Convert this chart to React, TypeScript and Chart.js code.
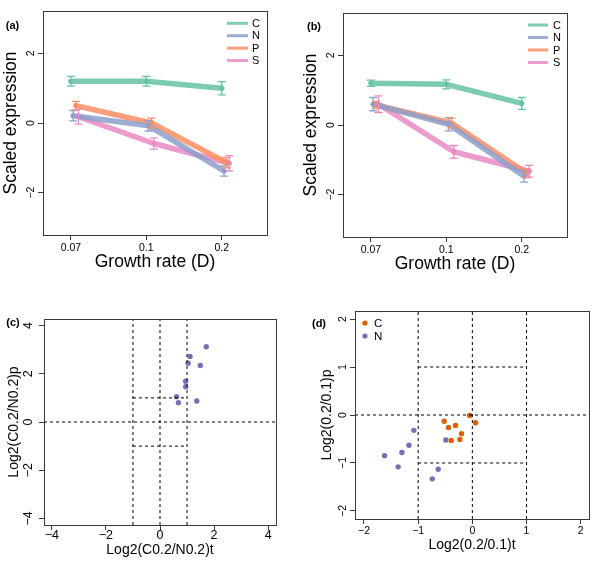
import React, { useEffect, useRef } from "react";
import { Chart, registerables } from "chart.js";

Chart.register(...registerables);

// ---------------- data ----------------
const growthRates = ["0.07", "0.1", "0.2"];
const seriesNames = ["C", "N", "P", "S"];

// panel (a)
const aC = [1.2, 1.2, 1.0];
const aCErr = [0.14, 0.14, 0.19];
const aN = [0.21, -0.08, -1.38];
const aNErr = [0.15, 0.15, 0.15];
const aP = [0.5, 0.0, -1.14];
const aPErr = [0.12, 0.14, 0.15];
const aS = [0.18, -0.59, -1.16];
const aSErr = [0.21, 0.16, 0.22];

// panel (b)
const bC = [1.2, 1.17, 0.62];
const bCErr = [0.09, 0.13, 0.17];
const bN = [0.6, 0.02, -1.47];
const bNErr = [0.19, 0.19, 0.17];
const bP = [0.58, 0.06, -1.39];
const bPErr = [0.1, 0.14, 0.12];
const bS = [0.6, -0.77, -1.33];
const bSErr = [0.24, 0.18, 0.17];

// panel (c)
const cX = [1.71, 1.11, 1.04, 1.49, 0.95, 0.95, 0.61, 0.68, 1.36];
const cY = [3.12, 2.72, 2.44, 2.34, 1.69, 1.46, 1.05, 0.8, 0.87];

// panel (d)
const dCX = [-0.05, 0.06, -0.52, -0.44, -0.31, -0.2, -0.39, -0.23];
const dCY = [-0.01, -0.16, -0.13, -0.26, -0.22, -0.39, -0.53, -0.51];
const dNX = [-0.49, -1.08, -1.17, -1.3, -1.62, -1.37, -0.63, -0.74];
const dNY = [-0.52, -0.32, -0.63, -0.78, -0.85, -1.08, -1.13, -1.33];

// ticks
const growthTicks = [1, 2, 3];
const expressionTicks = [-2, 0, 2];
const cTicks = [-4, -2, 0, 2, 4];
const dTicks = [-2, -1, 0, 1, 2];
const refLines = [-1, 0, 1];

// ---------------- styles ----------------
const FONT = "'Liberation Sans', Arial, Helvetica, sans-serif";
const AXIS_COLOR = "#3a3a3a";
const seriesColors = ["#66C2A5", "#8DA0CB", "#FC8D62", "#E78AC3"];
const lineColors = [
  "rgba(102,194,165,0.85)",
  "rgba(141,160,203,0.85)",
  "rgba(252,141,98,0.85)",
  "rgba(231,138,195,0.85)",
];
const dodge = [0, 0.03, 0.067, 0.1];
const purple = "#7570B3";
const orange = "#D95F02";

const fmtNum = (v: number) => (v < 0 ? "\u2212" + Math.abs(v) : String(v));

type Area = { l: number; t: number; r: number; b: number };
type Spec = {
  area: Area;
  xRange: [number, number];
  yRange: [number, number];
  xTicks: number[];
  yTicks: number[];
  xTickLabel: (v: number) => string;
  tickFont: number;
  tickPad: number;
  yTickX: number;
  xTitle: string;
  yTitle: string;
  titleFont: number;
  xTitleY: number;
  yTitleX: number;
  tag: string;
  tagX: number;
  tagY: number;
  datasets: any[];
  errors?: number[][];
  lineLegend?: { x0: number; x1: number; tx: number; y0: number; dy: number };
  dotLegend?: { x: number; tx: number; y0: number; dy: number; items: { label: string; color: string }[] };
};

function lineDatasets(values: number[][]) {
  return values.map((vals, si) => ({
    label: seriesNames[si],
    data: vals.map((v, i) => ({ x: growthTicks[i] + dodge[si], y: v })),
    showLine: true,
    borderColor: lineColors[si],
    backgroundColor: seriesColors[si],
    borderWidth: 5.5,
    pointRadius: 2.2,
    pointBorderWidth: 0,
    pointBackgroundColor: seriesColors[si],
    borderCapStyle: "round",
    borderJoinStyle: "round",
  }));
}

function refDatasets(xr: [number, number], yr: [number, number]) {
  const style = {
    showLine: true,
    borderColor: "#000",
    borderWidth: 1,
    borderDash: [3, 3],
    pointRadius: 0,
    fill: false,
  };
  const ds: any[] = [];
  refLines.forEach((v) => ds.push({ ...style, data: [{ x: v, y: yr[0] }, { x: v, y: yr[1] }] }));
  refLines.forEach((v) => {
    if (v === 0) ds.push({ ...style, data: [{ x: xr[0], y: 0 }, { x: xr[1], y: 0 }] });
    else ds.push({ ...style, data: [{ x: refLines[0], y: v }, { x: refLines[2], y: v }] });
  });
  return ds;
}

function pointDataset(xs: number[], ys: number[], color: string) {
  return {
    data: xs.map((x, i) => ({ x, y: ys[i] })),
    showLine: false,
    pointRadius: 2.7,
    pointBorderWidth: 0,
    pointBackgroundColor: color,
    backgroundColor: color,
  };
}

const growthLabel = (v: number) => growthRates[growthTicks.indexOf(v)] ?? "";

const expRange: [number, number] = [-3.22, 3.22];
const growthRange: [number, number] = [0.63, 3.6];
const cXRange: [number, number] = [-4.29, 4.29];
const cYRange: [number, number] = [-4.27, 4.27];
const dXRange: [number, number] = [-2.166, 2.153];
const dYRange: [number, number] = [-2.167, 2.167];

const specs: Spec[] = [
  {
    area: { l: 43, t: 11, r: 267, b: 235 },
    xRange: growthRange,
    yRange: expRange,
    xTicks: growthTicks,
    yTicks: expressionTicks,
    xTickLabel: growthLabel,
    tickFont: 10.5,
    tickPad: 2,
    yTickX: 31,
    xTitle: "Growth rate (D)",
    yTitle: "Scaled expression",
    titleFont: 17.5,
    xTitleY: 262,
    yTitleX: 11,
    tag: "(a)",
    tagX: 12.5,
    tagY: 25.5,
    datasets: lineDatasets([aC, aN, aP, aS]),
    errors: [aCErr, aNErr, aPErr, aSErr],
    lineLegend: { x0: 227, x1: 248, tx: 252, y0: 23.3, dy: 12.4 },
  },
  {
    area: { l: 343, t: 13, r: 567, b: 237 },
    xRange: growthRange,
    yRange: expRange,
    xTicks: growthTicks,
    yTicks: expressionTicks,
    xTickLabel: growthLabel,
    tickFont: 10.5,
    tickPad: 2,
    yTickX: 331,
    xTitle: "Growth rate (D)",
    yTitle: "Scaled expression",
    titleFont: 17.5,
    xTitleY: 264,
    yTitleX: 311,
    tag: "(b)",
    tagX: 314,
    tagY: 27,
    datasets: lineDatasets([bC, bN, bP, bS]),
    errors: [bCErr, bNErr, bPErr, bSErr],
    lineLegend: { x0: 528, x1: 548, tx: 553, y0: 25, dy: 12.5 },
  },
  {
    area: { l: 44, t: 319, r: 276, b: 525 },
    xRange: cXRange,
    yRange: cYRange,
    xTicks: cTicks,
    yTicks: cTicks,
    xTickLabel: fmtNum,
    tickFont: 12.5,
    tickPad: -2,
    yTickX: 29,
    xTitle: "Log2(C0.2/N0.2)t",
    yTitle: "Log2(C0.2/N0.2)p",
    titleFont: 14,
    xTitleY: 550,
    yTitleX: 14,
    tag: "(c)",
    tagX: 13,
    tagY: 323,
    datasets: [...refDatasets(cXRange, cYRange), pointDataset(cX, cY, purple)],
  },
  {
    area: { l: 355, t: 311, r: 589, b: 519 },
    xRange: dXRange,
    yRange: dYRange,
    xTicks: dTicks,
    yTicks: dTicks,
    xTickLabel: fmtNum,
    tickFont: 10.5,
    tickPad: 1,
    yTickX: 343,
    xTitle: "Log2(0.2/0.1)t",
    yTitle: "Log2(0.2/0.1)p",
    titleFont: 14,
    xTitleY: 545,
    yTitleX: 327,
    tag: "(d)",
    tagX: 319,
    tagY: 324,
    datasets: [
      ...refDatasets(dXRange, dYRange),
      pointDataset(dCX, dCY, orange),
      pointDataset(dNX, dNY, purple),
    ],
    dotLegend: {
      x: 365,
      tx: 374,
      y0: 323,
      dy: 13,
      items: [
        { label: "C", color: orange },
        { label: "N", color: purple },
      ],
    },
  },
];

function decorPlugin(p: Spec) {
  return {
    id: "decor",
    afterDatasetsDraw(chart: any) {
      if (!p.errors) return;
      const ctx = chart.ctx;
      const xs = chart.scales.x;
      const ys = chart.scales.y;
      ctx.save();
      p.errors.forEach((errs, si) => {
        const ds = chart.data.datasets[si];
        ctx.strokeStyle = seriesColors[si];
        ctx.lineWidth = 1.3;
        ds.data.forEach((pt: any, i: number) => {
          const px = xs.getPixelForValue(pt.x);
          const y0 = ys.getPixelForValue(pt.y - errs[i]);
          const y1 = ys.getPixelForValue(pt.y + errs[i]);
          ctx.beginPath();
          ctx.moveTo(px, y0);
          ctx.lineTo(px, y1);
          ctx.moveTo(px - 4, y0);
          ctx.lineTo(px + 4, y0);
          ctx.moveTo(px - 4, y1);
          ctx.lineTo(px + 4, y1);
          ctx.stroke();
        });
      });
      ctx.restore();
    },
    afterDraw(chart: any) {
      const ctx = chart.ctx;
      const a = chart.chartArea;
      const ys = chart.scales.y;
      ctx.save();
      // box
      ctx.strokeStyle = AXIS_COLOR;
      ctx.lineWidth = 1;
      ctx.strokeRect(a.left + 0.5, a.top + 0.5, a.right - a.left, a.bottom - a.top);
      // rotated y tick labels
      ctx.fillStyle = "#000";
      ctx.textAlign = "center";
      ctx.textBaseline = "middle";
      ctx.font = `${p.tickFont}px ${FONT}`;
      ys.ticks.forEach((t: any) => {
        const py = ys.getPixelForValue(t.value);
        ctx.save();
        ctx.translate(p.yTickX, py);
        ctx.rotate(-Math.PI / 2);
        ctx.fillText(fmtNum(t.value), 0, 0);
        ctx.restore();
      });
      // titles
      ctx.font = `${p.titleFont}px ${FONT}`;
      ctx.fillText(p.xTitle, (a.left + a.right) / 2, p.xTitleY);
      ctx.save();
      ctx.translate(p.yTitleX, (a.top + a.bottom) / 2);
      ctx.rotate(-Math.PI / 2);
      ctx.fillText(p.yTitle, 0, 0);
      ctx.restore();
      // tag
      ctx.font = `bold 11px ${FONT}`;
      ctx.fillText(p.tag, p.tagX, p.tagY);
      // legends
      if (p.lineLegend) {
        const L = p.lineLegend;
        ctx.font = `11px ${FONT}`;
        ctx.textAlign = "left";
        seriesNames.forEach((name, i) => {
          const y = L.y0 + i * L.dy;
          ctx.strokeStyle = lineColors[i];
          ctx.lineWidth = 3;
          ctx.lineCap = "butt";
          ctx.beginPath();
          ctx.moveTo(L.x0, y);
          ctx.lineTo(L.x1, y);
          ctx.stroke();
          ctx.fillStyle = "#000";
          ctx.fillText(name, L.tx, y + 0.5);
        });
      }
      if (p.dotLegend) {
        const D = p.dotLegend;
        ctx.font = `11.5px ${FONT}`;
        ctx.textAlign = "left";
        D.items.forEach((it, i) => {
          const y = D.y0 + i * D.dy;
          ctx.fillStyle = it.color;
          ctx.beginPath();
          ctx.arc(D.x, y, 2.6, 0, Math.PI * 2);
          ctx.fill();
          ctx.fillStyle = "#000";
          ctx.fillText(it.label, D.tx, y + 0.5);
        });
      }
      ctx.restore();
    },
  };
}

function buildConfig(p: Spec): any {
  const yAxisW = 10;
  const xAxisH = 30;
  const gridOpts = {
    display: true,
    drawOnChartArea: false,
    drawTicks: true,
    tickLength: 5,
    tickColor: AXIS_COLOR,
    tickWidth: 1,
  };
  return {
    type: "scatter",
    data: { datasets: p.datasets },
    options: {
      animation: false,
      responsive: false,
      devicePixelRatio: 1,
      events: [],
      layout: {
        padding: {
          left: p.area.l - yAxisW,
          top: p.area.t,
          right: 600 - p.area.r,
          bottom: 566 - p.area.b - xAxisH,
        },
      },
      plugins: {
        legend: { display: false },
        tooltip: { enabled: false },
        title: { display: false },
      },
      scales: {
        x: {
          type: "linear",
          position: "bottom",
          min: p.xRange[0],
          max: p.xRange[1],
          afterBuildTicks: (s: any) => {
            s.ticks = p.xTicks.map((v) => ({ value: v }));
          },
          afterFit: (s: any) => {
            s.height = xAxisH;
          },
          grid: gridOpts,
          border: { display: false },
          ticks: {
            color: "#000",
            font: { family: FONT, size: p.tickFont },
            padding: p.tickPad,
            maxRotation: 0,
            minRotation: 0,
            autoSkip: false,
            callback: (v: any) => p.xTickLabel(Number(v)),
          },
        },
        y: {
          type: "linear",
          position: "left",
          min: p.yRange[0],
          max: p.yRange[1],
          afterBuildTicks: (s: any) => {
            s.ticks = p.yTicks.map((v) => ({ value: v }));
          },
          afterFit: (s: any) => {
            s.width = yAxisW;
          },
          grid: gridOpts,
          border: { display: false },
          ticks: { display: false },
        },
      },
    },
    plugins: [decorPlugin(p)],
  };
}

function PanelCanvas({ spec }: { spec: Spec }) {
  const ref = useRef<HTMLCanvasElement>(null);
  useEffect(() => {
    if (!ref.current) return;
    const chart = new Chart(ref.current, buildConfig(spec));
    return () => chart.destroy();
  }, [spec]);
  return (
    <canvas
      ref={ref}
      width={600}
      height={566}
      style={{ position: "absolute", left: 0, top: 0, width: 600, height: 566 }}
    />
  );
}

export default function App() {
  return (
    <div
      style={{
        position: "absolute",
        left: 0,
        top: 0,
        width: 600,
        height: 566,
        background: "#fff",
        overflow: "hidden",
      }}
    >
      {specs.map((s, i) => (
        <PanelCanvas key={i} spec={s} />
      ))}
    </div>
  );
}
